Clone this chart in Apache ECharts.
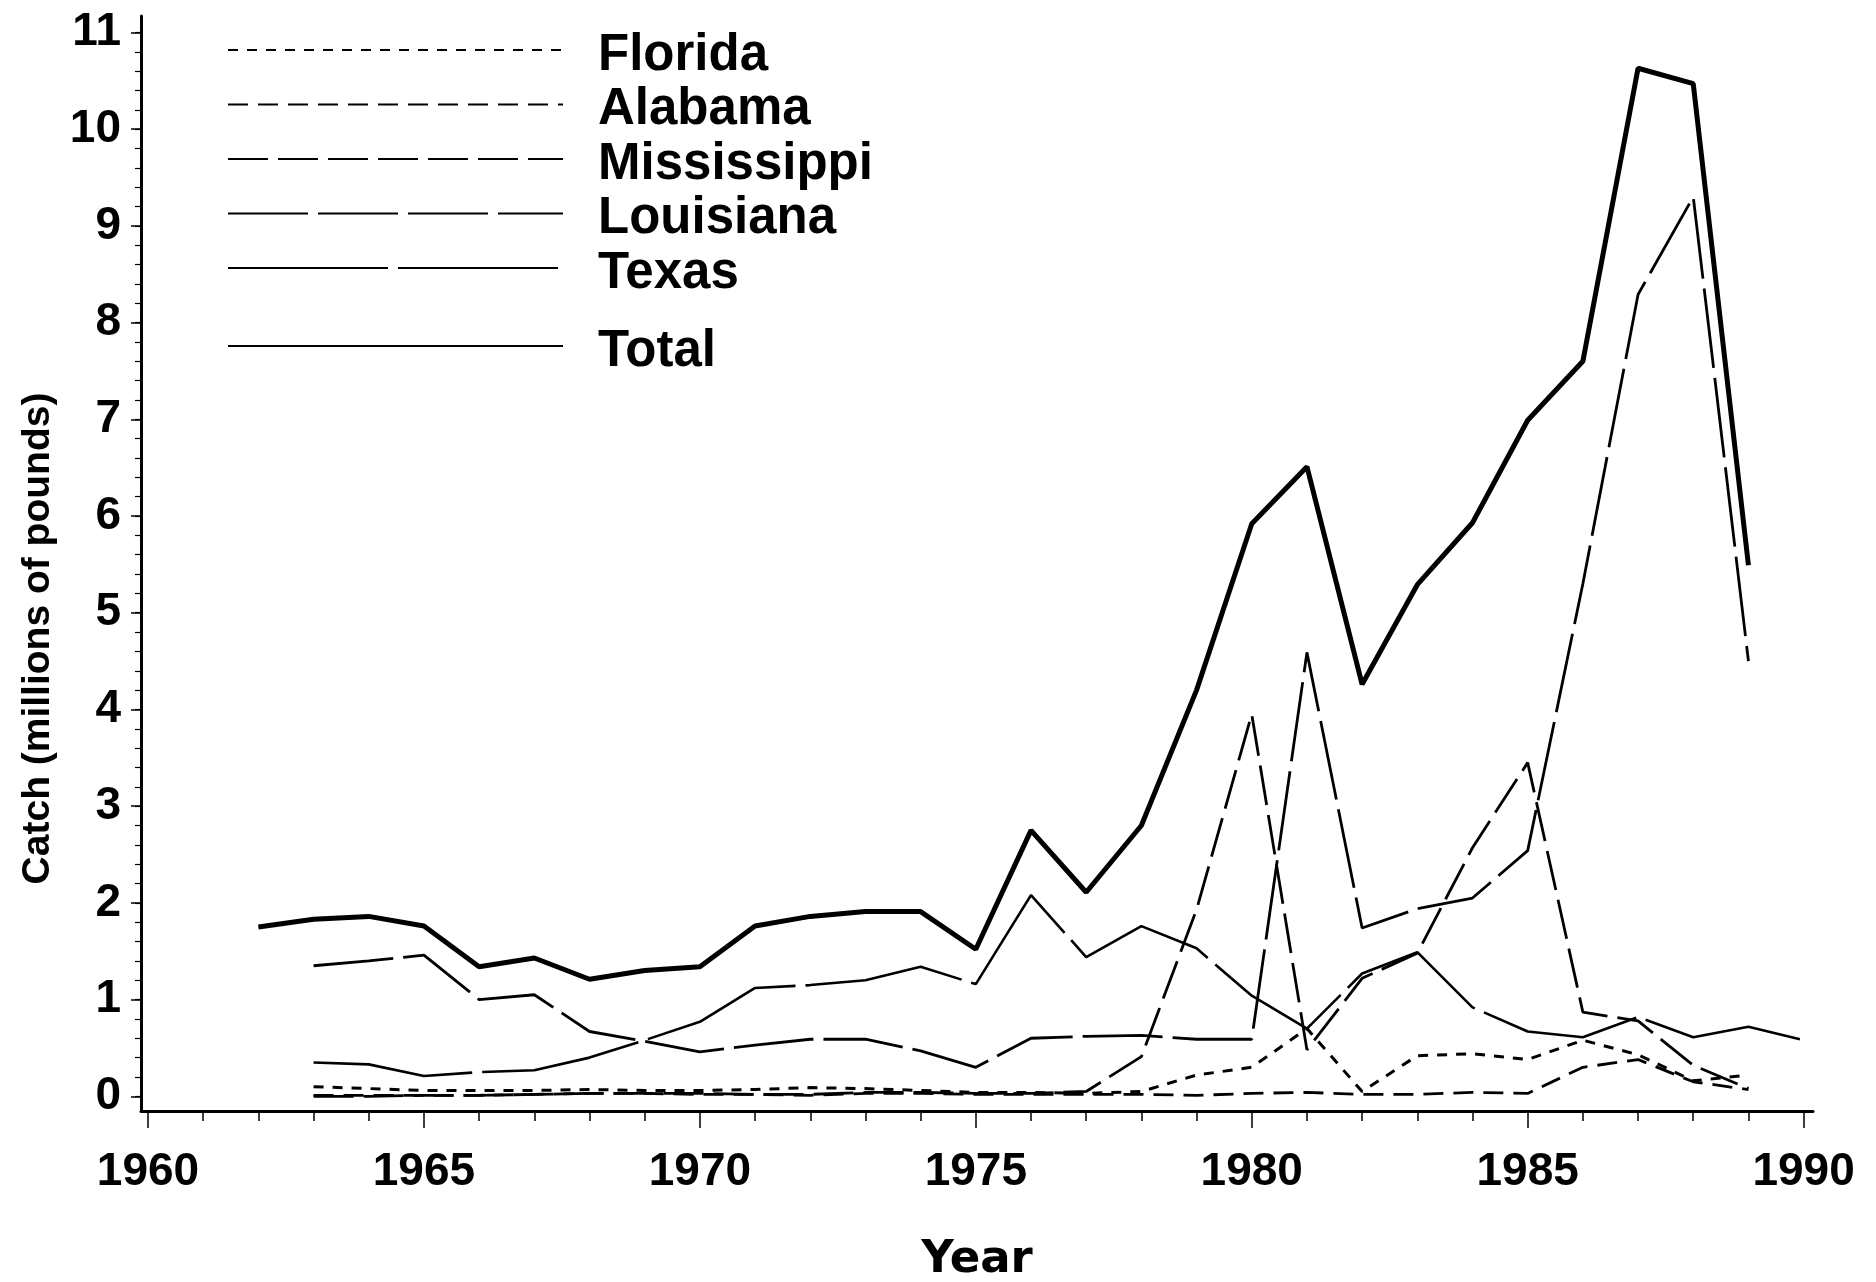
<!DOCTYPE html>
<html>
<head>
<meta charset="utf-8">
<title>Catch by state</title>
<script src="https://cdn.jsdelivr.net/npm/echarts@6/dist/echarts.min.js"></script>
<style>
  html, body { margin: 0; padding: 0; background: #fff; }
  #chart { width: 1876px; height: 1282px; }
</style>
</head>
<body>
<div id="chart"></div>
<script>
// years on the x axis, null where a state has no value that year
const years = [1962, 1963, 1964, 1965, 1966, 1967, 1968, 1969, 1970, 1971,
  1972, 1973, 1974, 1975, 1976, 1977, 1978, 1979, 1980, 1981,
  1982, 1983, 1984, 1985, 1986, 1987, 1988, 1989, 1990];

const florida = [null, 0.10, 0.08, 0.06, 0.06, 0.06, 0.07, 0.06, 0.06, 0.07,
  0.09, 0.08, 0.06, 0.04, 0.04, 0.03, 0.05, 0.22, 0.30, 0.70,
  0.05, 0.42, 0.44, 0.38, 0.58, 0.43, 0.16, 0.22, null];

const alabama = [null, 0.01, 0.01, 0.01, 0.01, 0.02, 0.03, 0.03, 0.02, 0.02,
  0.01, 0.03, 0.03, 0.02, 0.02, 0.02, 0.02, 0.01, 0.03, 0.04,
  0.02, 0.02, 0.04, 0.03, 0.30, 0.38, 0.15, 0.07, null];

const mississippi = [null, 0.00, 0.00, 0.01, 0.01, 0.02, 0.03, 0.03, 0.03, 0.02,
  0.02, 0.04, 0.04, 0.03, 0.03, 0.05, 0.41, 1.93, 3.95, 0.48,
  1.22, 1.48, 2.57, 3.45, 0.87, 0.78, 0.32, 0.08, null];

const louisiana = [null, 1.35, 1.40, 1.46, 1.00, 1.05, 0.67, 0.57, 0.46, 0.53,
  0.59, 0.59, 0.47, 0.30, 0.60, 0.62, 0.63, 0.59, 0.59, 4.59,
  1.74, 1.94, 2.05, 2.54, 5.30, 8.29, 9.30, 4.50, null];

const texas = [null, 0.35, 0.33, 0.21, 0.25, 0.27, 0.40, 0.58, 0.77, 1.12,
  1.15, 1.20, 1.34, 1.16, 2.08, 1.44, 1.76, 1.53, 1.04, 0.70,
  1.27, 1.49, 0.92, 0.67, 0.61, 0.82, 0.61, 0.72, 0.58];

const total = [1.75, 1.83, 1.86, 1.76, 1.34, 1.43, 1.21, 1.30, 1.34, 1.76,
  1.86, 1.91, 1.91, 1.52, 2.75, 2.11, 2.80, 4.20, 5.92, 6.51,
  4.26, 5.29, 5.93, 6.99, 7.60, 10.63, 10.47, 5.49, null];

const xLabelYears = [1960, 1965, 1970, 1975, 1980, 1985, 1990];
const xMinorYears = [];
for (let y = 1960; y <= 1990; y++) xMinorYears.push(y);
const yLabelValues = [0, 1, 2, 3, 4, 5, 6, 7, 8, 9, 10, 11];
const yMinorValues = [];
for (let v = 0; v <= 55; v++) yMinorValues.push(v / 5);

function pairs(values) {
  const out = [];
  values.forEach((v, i) => {
    if (v !== null) out.push([years[i], v]);
  });
  return out;
}

const labelFont = "'Liberation Sans', Arial, sans-serif";

function lineSeries(name, values, width, dash) {
  return {
    name: name,
    type: "line",
    data: pairs(values),
    symbol: "none",
    showSymbol: false,
    silent: true,
    lineStyle: { color: "#000", width: width, type: dash, cap: "butt" },
  };
}

let myChart = echarts.init(document.getElementById("chart"), null, { renderer: "canvas" });

// legend text sits a little below its sample line in the original
const legendText = {
  color: "#000",
  rich: {
    t: {
      fontFamily: labelFont,
      fontWeight: "bold",
      fontSize: 51,
      color: "#000",
      padding: [11, 0, 0, 30],
    },
  },
};

let option = {
  backgroundColor: "#fff",
  animation: false,
  grid: { left: 141, right: 63, top: 16, bottom: 171, containLabel: false, outerBoundsMode: "none" },
  legend: [
    {
      data: ["Florida", "Alabama", "Mississippi", "Louisiana", "Texas"],
      orient: "vertical",
      left: 227,
      top: 30,
      padding: 0,
      itemWidth: 335,
      itemHeight: 20,
      itemGap: 3.5,
      selectedMode: false,
      formatter: (name) => "{t|" + name + "}",
      lineStyle: { width: 2 },
      itemStyle: { color: "transparent", borderWidth: 0, opacity: 0 },
      textStyle: legendText,
    },
    {
      data: ["Total"],
      orient: "vertical",
      left: 227,
      top: 326,
      padding: 0,
      itemWidth: 335,
      itemHeight: 20,
      selectedMode: false,
      formatter: (name) => "{t|" + name + "}",
      lineStyle: { width: 2 },
      itemStyle: { color: "transparent", borderWidth: 0, opacity: 0 },
      textStyle: legendText,
    },
  ],
  xAxis: [
    {
      type: "value",
      min: 1959.873,
      max: 1990.17,
      name: "Year",
      nameLocation: "middle",
      nameGap: 127,
      nameTextStyle: { fontFamily: "'DejaVu Sans', sans-serif", fontWeight: "bold", fontSize: 45, color: "#000" },
      axisLine: { show: true, onZero: false, lineStyle: { color: "#000", width: 3 } },
      axisTick: { show: true, customValues: xLabelYears, length: 17, lineStyle: { color: "#000", width: 1.5 } },
      axisLabel: {
        customValues: xLabelYears,
        formatter: (v) => String(v),
        margin: 38,
        fontFamily: labelFont,
        fontWeight: "bold",
        fontSize: 46,
        color: "#000",
      },
      splitLine: { show: false },
    },
    {
      type: "value",
      min: 1959.873,
      max: 1990.17,
      position: "bottom",
      axisLine: { show: false, onZero: false },
      axisTick: { show: true, customValues: xMinorYears, length: 10, lineStyle: { color: "#000", width: 1.5 } },
      axisLabel: { show: false },
      splitLine: { show: false },
    },
  ],
  yAxis: [
    {
      type: "value",
      min: -0.152,
      max: 11.17,
      name: "Catch (millions of pounds)",
      nameLocation: "middle",
      nameGap: 83,
      nameTextStyle: { fontFamily: labelFont, fontWeight: "bold", fontSize: 39, color: "#000", padding: [0, 150, 0, 0] },
      axisLine: { show: true, onZero: false, lineStyle: { color: "#000", width: 3 } },
      axisTick: { show: true, customValues: yLabelValues, length: 10, lineStyle: { color: "#000", width: 1.5 } },
      axisLabel: {
        customValues: yLabelValues,
        margin: 20,
        fontFamily: labelFont,
        fontWeight: "bold",
        fontSize: 46,
        color: "#000",
      },
      splitLine: { show: false },
    },
    {
      type: "value",
      min: -0.152,
      max: 11.17,
      position: "left",
      axisLine: { show: false, onZero: false },
      axisTick: { show: true, customValues: yMinorValues, length: 6, lineStyle: { color: "#000", width: 1.2 } },
      axisLabel: { show: false },
      splitLine: { show: false },
    },
  ],
  series: [
    lineSeries("Florida", florida, 3, [10, 9]),
    lineSeries("Alabama", alabama, 2.8, [20, 10]),
    lineSeries("Mississippi", mississippi, 2.8, [40, 10]),
    lineSeries("Louisiana", louisiana, 2.8, [80, 10]),
    lineSeries("Texas", texas, 2.6, [160, 10]),
    lineSeries("Total", total, 5, "solid"),
  ],
};
myChart.setOption(option);
</script>
</body>
</html>
